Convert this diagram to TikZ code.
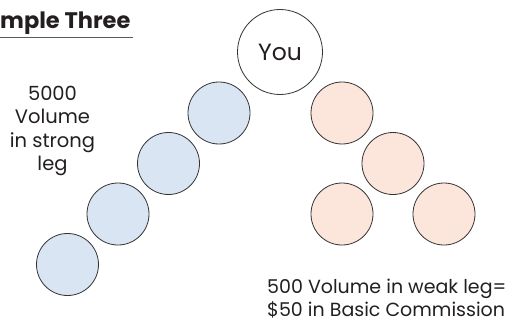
\documentclass[tikz,border=0pt]{standalone}
\usepackage{fontspec}
\setmainfont{Poppins}
\usetikzlibrary{positioning}

\definecolor{strongblue}{HTML}{DAE5F3}
\definecolor{weakpeach}{HTML}{FCE5DA}
\definecolor{rimgray}{HTML}{333333}
\definecolor{inkgray}{HTML}{231F20}

\begin{document}
\begin{tikzpicture}[x=1pt, y=-1pt,
    member/.style={circle, draw=rimgray, line width=0.8pt, minimum size=62pt, inner sep=0pt},
    caption/.style={inner sep=0pt, text=inkgray, font=\fontsize{19.5}{23.5}\selectfont}]
    \useasboundingbox (0,0) rectangle (520,324);

    % Title (cut off at the left edge)
    \node[anchor=base west, inner sep=0pt, text=inkgray, font=\bfseries\fontsize{22.5}{22.5}\selectfont] (title) at (0,28.3) {mple Three};
    \draw[line width=1.3pt, draw=rimgray!80] (0,37.7) -- (132.7,37.7);

    % Top of the tree
    \node[member, minimum size=85pt, fill=white, text=inkgray, font=\fontsize{23.5}{23.5}\selectfont] (you) at (280,52) {You};

    % Strong leg
    \foreach \i/\x/\y in {1/219/113, 2/168.5/163.5, 3/118/214, 4/67.5/264.5} {
      \node[member, fill=strongblue] (strong\i) at (\x,\y) {};
    }

    % Weak leg
    \foreach \i/\x/\y in {1/342/113, 2/393/163.5, 3/342/214, 4/444/214} {
      \node[member, fill=weakpeach] (weak\i) at (\x,\y) {};
    }

    % Volume labels
    \node[caption, anchor=north, align=center] (stronglabel) at (52.5,85.5) {5000\\Volume\\in strong\\leg};
    \node[caption, font=\fontsize{19}{23}\selectfont, anchor=north west, align=left] (weaklabel) at (267,279) {500 Volume in weak leg=\\\$50 in Basic Commission};
\end{tikzpicture}
\end{document}
